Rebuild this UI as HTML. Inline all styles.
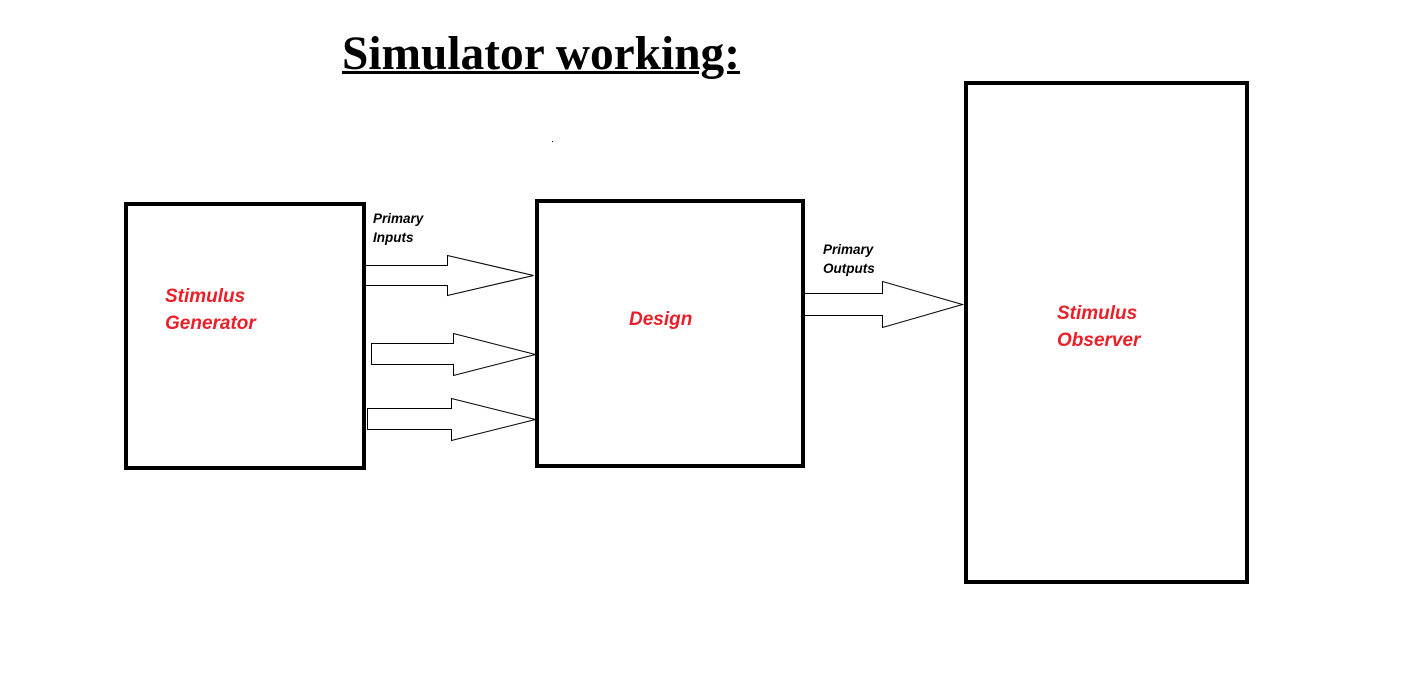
<!DOCTYPE html>
<html><head><style>
body{margin:0;width:1423px;height:676px;background:#fff;overflow:hidden;position:relative}
.t{position:absolute;left:342px;top:27px;font:bold 47.4px "Liberation Serif",serif;text-decoration:underline;text-decoration-thickness:3px;white-space:nowrap}
.b{position:absolute;border:4px solid #000;box-sizing:border-box}
.r{position:absolute;color:#e8202a;font:italic bold 19px "Liberation Sans",sans-serif;line-height:27px}
.s{position:absolute;font:italic bold 13.5px "Liberation Sans",sans-serif;line-height:19px}
</style></head><body>
<div class="t">Simulator working:</div>
<div class="b" style="left:124px;top:202px;width:242px;height:268px"></div>
<div class="b" style="left:535px;top:199px;width:270px;height:269px"></div>
<div class="b" style="left:964px;top:81px;width:285px;height:503px"></div>
<div class="r" style="left:165px;top:283px">Stimulus<br>Generator</div>
<div class="r" style="left:629px;top:306px">Design</div>
<div class="r" style="left:1057px;top:300px">Stimulus<br>Observer</div>
<div class="s" style="left:373px;top:209px">Primary<br>Inputs</div>
<div class="s" style="left:823px;top:240px">Primary<br>Outputs</div>
<svg width="1423" height="676" style="position:absolute;left:0;top:0" fill="none" stroke="#000" stroke-width="1">
<polyline points="365.5,265.5 447.5,265.5 447.5,255.5 533.5,275.5 447.5,295.5 447.5,285.5 365.5,285.5"/>
<polygon points="371.5,343.5 453.5,343.5 453.5,333.5 535.5,354.5 453.5,375.5 453.5,364.5 371.5,364.5"/>
<polygon points="367.5,408.5 451.5,408.5 451.5,398.5 535.5,419.5 451.5,440.5 451.5,429.5 367.5,429.5"/>
<polyline points="803.5,293.5 882.5,293.5 882.5,281.5 962.5,304.5 882.5,327.5 882.5,315.5 803.5,315.5"/>
<rect x="552" y="141" width="1" height="1" fill="#000" stroke="none"/>
</svg>
</body></html>
